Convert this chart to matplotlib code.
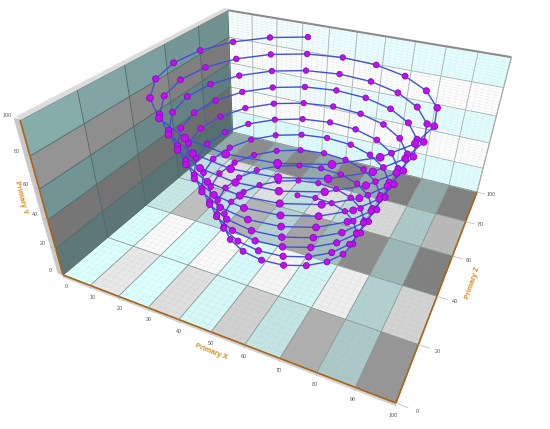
import numpy as np
import matplotlib
matplotlib.use("Agg")
import matplotlib.pyplot as plt
from mpl_toolkits.mplot3d.art3d import Poly3DCollection, Line3DCollection

plt.rcParams['font.family'] = ['Liberation Sans', 'DejaVu Sans']

x_ticks = [0, 10, 20, 30, 40, 50, 60, 70, 80, 90, 100]
y_ticks = [0, 20, 40, 60, 80, 100]
z_ticks = [0, 20, 40, 60, 80, 100]

floor_shade = [
    [255, 232, 255, 222, 248, 208, 228, 175, 200, 150],
    [255, 250, 255, 250, 250, 245, 245, 238, 208, 210],
    [232, 192, 225, 180, 210, 165, 190, 140, 184, 128],
    [225, 225, 225, 225, 225, 225, 220, 215, 200, 185],
    [170, 140, 170, 135, 170, 130, 170, 125, 170, 128],
]
left_shade = [
    [120, 118, 115, 112, 110],
    [118, 115, 112, 110, 108],
    [148, 142, 136, 130, 125],
    [148, 142, 136, 128, 122],
    [172, 165, 158, 150, 145],
]

spiral_x = [
    37.5, 26.4, 17.5, 11.9, 10.1, 12.1, 17.9, 26.7, 37.8, 50.0, 62.2, 73.1, 81.7, 87.1, 88.9, 86.9, 81.3, 72.7, 61.9, 50.0,
    38.2, 27.5, 19.1, 13.8, 12.0, 14.0, 19.5, 27.9, 38.4, 50.0, 61.5, 71.9, 80.1, 85.2, 87.0, 85.1, 79.7, 71.6, 61.3, 50.0,
    38.8, 28.7, 20.7, 15.7, 14.0, 15.9, 21.1, 29.0, 39.0, 50.0, 60.9, 70.7, 78.5, 83.4, 85.0, 83.2, 78.1, 70.4, 60.7, 50.0,
    39.4, 29.8, 22.3, 17.6, 16.0, 17.8, 22.7, 30.2, 39.6, 50.0, 60.3, 69.6, 76.9, 81.5, 83.0, 81.3, 76.5, 69.2, 60.1, 50.0,
    40.0, 31.0, 23.9, 19.5, 18.0, 19.6, 24.3, 31.4, 40.2, 50.0, 59.7, 68.4, 75.3, 79.6, 81.0, 79.4, 74.9, 68.1, 59.5, 50.0,
    40.6, 32.2, 25.5, 21.3, 20.0, 21.5, 25.9, 32.5, 40.8, 50.0, 59.1, 67.3, 73.7, 77.7, 79.0, 77.5, 73.3, 66.9, 58.9, 50.0,
    41.2, 33.3, 27.1, 23.2, 21.9, 23.4, 27.5, 33.7, 41.5, 50.0, 58.5, 66.1, 72.1, 75.8, 77.1, 75.6, 71.7, 65.8, 58.2, 50.0,
    41.8, 34.5, 28.7, 25.1, 23.9, 25.3, 29.1, 34.8, 42.1, 50.0, 57.9, 64.9, 70.5, 74.0, 75.1, 73.8, 70.1, 64.6, 57.6, 50.0,
    42.4, 35.7, 30.3, 27.0, 25.9, 27.2, 30.7, 36.0, 42.7, 50.0, 57.3, 63.8, 68.9, 72.1, 73.1, 71.9, 68.5, 63.4, 57.0, 50.0,
    43.0, 36.8, 31.9, 28.9, 27.9, 29.1, 32.3, 37.2, 43.3, 50.0, 56.7, 62.6, 67.3, 70.2, 71.1, 70.0, 66.9, 62.3, 56.4, 50.0,
    43.6,
]
spiral_y = [
    100.0, 99.5, 99.0, 98.5, 98.0, 97.5, 97.0, 96.5, 96.0, 95.5, 95.0, 94.5, 94.0, 93.5, 93.0, 92.5, 92.0, 91.5, 91.0, 90.5,
    90.0, 89.5, 89.0, 88.5, 88.0, 87.5, 87.0, 86.5, 86.0, 85.5, 85.0, 84.5, 84.0, 83.5, 83.0, 82.5, 82.0, 81.5, 81.0, 80.5,
    80.0, 79.5, 79.0, 78.5, 78.0, 77.5, 77.0, 76.5, 76.0, 75.5, 75.0, 74.5, 74.0, 73.5, 73.0, 72.5, 72.0, 71.5, 71.0, 70.5,
    70.0, 69.5, 69.0, 68.5, 68.0, 67.5, 67.0, 66.5, 66.0, 65.5, 65.0, 64.5, 64.0, 63.5, 63.0, 62.5, 62.0, 61.5, 61.0, 60.5,
    60.0, 59.5, 59.0, 58.5, 58.0, 57.5, 57.0, 56.5, 56.0, 55.5, 55.0, 54.5, 54.0, 53.5, 53.0, 52.5, 52.0, 51.5, 51.0, 50.5,
    50.0, 49.5, 49.0, 48.5, 48.0, 47.5, 47.0, 46.5, 46.0, 45.5, 45.0, 44.5, 44.0, 43.5, 43.0, 42.5, 42.0, 41.5, 41.0, 40.5,
    40.0, 39.5, 39.0, 38.5, 38.0, 37.5, 37.0, 36.5, 36.0, 35.5, 35.0, 34.5, 34.0, 33.5, 33.0, 32.5, 32.0, 31.5, 31.0, 30.5,
    30.0, 29.5, 29.0, 28.5, 28.0, 27.5, 27.0, 26.5, 26.0, 25.5, 25.0, 24.5, 24.0, 23.5, 23.0, 22.5, 22.0, 21.5, 21.0, 20.5,
    20.0, 19.5, 19.0, 18.5, 18.0, 17.5, 17.0, 16.5, 16.0, 15.5, 15.0, 14.5, 14.0, 13.5, 13.0, 12.5, 12.0, 11.5, 11.0, 10.5,
    10.0, 9.5, 9.0, 8.5, 8.0, 7.5, 7.0, 6.5, 6.0, 5.5, 5.0, 4.5, 4.0, 3.5, 3.0, 2.5, 2.0, 1.5, 1.0, 0.5,
    0.0,
]
spiral_z = [
    87.2, 81.6, 72.9, 62.0, 50.0, 38.1, 27.3, 18.9, 13.5, 11.7, 13.7, 19.2, 27.7, 38.3, 50.0, 61.7, 72.1, 80.4, 85.6, 87.3,
    85.4, 80.0, 71.8, 61.4, 50.0, 38.6, 28.5, 20.4, 15.3, 13.6, 15.5, 20.7, 28.8, 38.9, 50.0, 61.1, 71.0, 78.8, 83.8, 85.4,
    83.6, 78.5, 70.6, 60.8, 50.0, 39.2, 29.6, 22.0, 17.1, 15.6, 17.3, 22.3, 29.9, 39.5, 50.0, 60.5, 69.9, 77.2, 81.9, 83.5,
    81.8, 76.9, 69.5, 60.2, 50.0, 39.8, 30.7, 23.5, 19.0, 17.5, 19.2, 23.8, 31.1, 40.1, 50.0, 59.9, 68.7, 75.7, 80.1, 81.6,
    79.9, 75.4, 68.4, 59.6, 50.0, 40.4, 31.8, 25.1, 20.8, 19.4, 21.0, 25.4, 32.2, 40.7, 50.0, 59.3, 67.6, 74.1, 78.3, 79.6,
    78.1, 73.8, 67.3, 59.0, 50.0, 41.0, 33.0, 26.6, 22.6, 21.3, 22.8, 26.9, 33.3, 41.3, 50.0, 58.7, 66.5, 72.6, 76.5, 77.7,
    76.3, 72.3, 66.1, 58.4, 50.0, 41.6, 34.1, 28.2, 24.5, 23.2, 24.6, 28.5, 34.4, 41.8, 50.0, 58.1, 65.3, 71.0, 74.6, 75.8,
    74.5, 70.7, 65.0, 57.9, 50.0, 42.2, 35.2, 29.7, 26.3, 25.2, 26.5, 30.1, 35.6, 42.4, 50.0, 57.5, 64.2, 69.5, 72.8, 73.9,
    72.6, 69.2, 63.9, 57.3, 50.0, 42.8, 36.4, 31.3, 28.1, 27.1, 28.3, 31.6, 36.7, 43.0, 50.0, 56.9, 63.1, 67.9, 71.0, 72.0,
    70.8, 67.6, 62.7, 56.7, 50.0, 43.4, 37.5, 32.9, 29.9, 29.0, 30.1, 33.2, 37.8, 43.6, 50.0, 56.3, 62.0, 66.4, 69.2, 70.0,
    69.0,
]

sx = np.array(spiral_x)
sy = np.array(spiral_y)
sz = np.array(spiral_z)

fig = plt.figure(figsize=(5.5, 4.29), dpi=100)
ax = fig.add_axes([0, 0, 1, 1], projection='3d')
ax.set_axis_off()
ax.computed_zorder = False
ax.apply_aspect = lambda position=None: None

# camera: columns X, Z(depth), Y(up), 1 in data percent units
CU = np.array([177.6, 188.5, -32.5, 44.1])
CV = np.array([33.2, -60.5, -123.0, 192.5])
CW = np.array([-0.14, 0.30, -0.1214, 0.70])
S = np.array([0.01, 0.01, 0.01, 1.0])

def cam_proj():
    x0, x1 = ax.viewLim.intervalx
    y0, y1 = ax.viewLim.intervaly
    r0 = (x1 - x0) / 550 * CU * S + x0 * CW * S
    r1 = y1 * CW * S - (y1 - y0) / 429 * CV * S
    r3 = CW * S
    r2 = np.array([0, 0, 0, -0.3])
    return np.array([r0, r1, r2, r3])
ax.get_proj = cam_proj

def W(x, z, y):
    return (CW[0] * x + CW[1] * z + CW[2] * y) / 100 + CW[3]

def pix(x, z, y):
    p = np.array([x, z, y, 1.0]) * S
    w = CW @ p
    return (CU @ p) / w, (CV @ p) / w

def label(x, z, y, dx, dy, s, **kw):
    u, v = pix(x, z, y)
    fig.text((u + dx) / 550, 1 - (v + dy) / 429, s, **kw)

def cell(color_list, polys, zo, lw=0.25):
    pc = Poly3DCollection(polys, facecolors=color_list, edgecolors=color_list, linewidths=lw, zorder=zo)
    ax.add_collection3d(pc)

def segs(seglist, color, lw, zo):
    lc = Line3DCollection(seglist, colors=color, linewidths=lw, zorder=zo)
    ax.add_collection3d(lc)

# floor
polys, cols = [], []
for r, row in enumerate(floor_shade):
    for c, b in enumerate(row):
        x0, x1, z0, z1 = c * 10, c * 10 + 10, r * 20, r * 20 + 20
        polys.append([(x0, z0, 0), (x1, z0, 0), (x1, z1, 0), (x0, z1, 0)])
        b = b / 255
        cols.append((b * 0.86 if c % 2 == 0 else b, b, b))
cell(cols, polys, 1)

# left wall
polys, cols = [], []
for r, row in enumerate(left_shade):
    for c, b in enumerate(row):
        z0, z1, y0, y1 = c * 20, c * 20 + 20, r * 20, r * 20 + 20
        polys.append([(0, z0, y0), (0, z1, y0), (0, z1, y1), (0, z0, y1)])
        b = b / 255
        cols.append((b * 0.78 if r % 2 == 0 else b, b, b))
cell(cols, polys, 1)

# back wall
polys, cols = [], []
for r in range(5):
    for c in range(10):
        x0, x1, y0, y1 = c * 10, c * 10 + 10, r * 20, r * 20 + 20
        polys.append([(x0, 100, y0), (x1, 100, y0), (x1, 100, y1), (x0, 100, y1)])
        if r % 2 == 0:
            f = c / 9
            cols.append((0.84 + 0.02 * f if r == 0 else 0.97 - 0.10 * f, 1.0, 1.0))
        else:
            cols.append((1.0, 1.0, 1.0))
cell(cols, polys, 1)

# fine grids
fine = np.arange(0, 101, 2)
seg = []
for v in fine:
    seg.append([(v, 100, 0), (v, 100, 100)])
    seg.append([(0, 100, v), (100, 100, v)])
segs(seg, '#e4e9e9', 0.3, 2)
seg = []
for v in fine:
    seg.append([(v, 0, 0), (v, 100, 0)])
    seg.append([(0, v, 0), (100, v, 0)])
segs(seg, (0.6, 0.65, 0.65, 0.18), 0.3, 2)

# major grids
seg = [[(v, 100, 0), (v, 100, 100)] for v in x_ticks] + [[(0, 100, v), (100, 100, v)] for v in y_ticks]
segs(seg, '#b2b8b8', 0.7, 3)
seg = [[(v, 0, 0), (v, 100, 0)] for v in x_ticks] + [[(0, v, 0), (100, v, 0)] for v in z_ticks]
segs(seg, '#8c9696', 0.6, 3)
seg = [[(0, v, 0), (0, v, 100)] for v in z_ticks] + [[(0, 0, v), (0, 100, v)] for v in y_ticks]
segs(seg, '#4a6666', 0.6, 3)

# bevels
bev = [
    [(0, 0, 100), (0, 100, 100), (-1.0, 100, 101.5), (-1.0, 0, 101.5)],
    [(0, 0, 0), (0, 0, 100), (-2.0, 0, 100), (-2.0, 0, 0)],
    [(0, 0, 0), (100, 0, 0), (100, 0, -2.2), (0, 0, -2.2)],
]
cell(['#dcdcdc', '#c8c8c8', '#d2d2d2'], bev, 4, 0.2)
segs([[(0, 100, 100), (100, 100, 100)]], '#8c8c8c', 1.5, 4)
segs([[(100, 100, 0), (100, 100, 100)]], '#a8aeae', 0.8, 4)

# axis lines
segs([[(0, 0, 0), (100, 0, 0)], [(100, 0, 0), (100, 100, 0)], [(0, 0, 0), (0, 0, 100)]], '#a8651a', 1.2, 5)

# ticks
seg = [[(v, 0, 0), (v, 0, -2.5)] for v in x_ticks]
seg += [[(100, v, 0), (103, v, 0)] for v in z_ticks]
seg += [[(0, 0, v), (-1.5, 0, v)] for v in y_ticks]
segs(seg, '#b0b0b0', 0.5, 5)

tk = dict(fontsize=3.9, color='#555555', ha='center', va='center')
for v in x_ticks:
    label(v, 0, 0, 3 - 0.06 * v, 12, str(v), **tk)
for v in z_ticks:
    label(100, v, 0, 21 - 0.07 * v, 8 - 0.06 * v, str(v), **tk)
for v in y_ticks:
    label(0, 0, v, -13, -5, str(v), **tk)

ttl = dict(fontsize=5.2, fontweight='bold', color='#d98a20', ha='center', va='center')
fig.text(211 / 550, 1 - 352 / 429, 'Primary X', rotation=-21, rotation_mode='anchor', **ttl)
fig.text(473 / 550, 1 - 283 / 429, 'Primary Z', rotation=72, rotation_mode='anchor', **ttl)
fig.text(21 / 550, 1 - 197 / 429, 'Primary Y', rotation=-75, rotation_mode='anchor', **ttl)

# spiral
ax.plot(sx, sz, sy, color='#4350d8', lw=1.0, zorder=9)
wv = W(sx, sz, sy)
size = (0.72 * 4.3 / wv) ** 2
ax.scatter(sx, sz, sy, s=size, c='#c80cf2', edgecolors='#7a12b8', linewidths=0.6, depthshade=False, zorder=10)

fig.savefig('out.png', dpi=100)
